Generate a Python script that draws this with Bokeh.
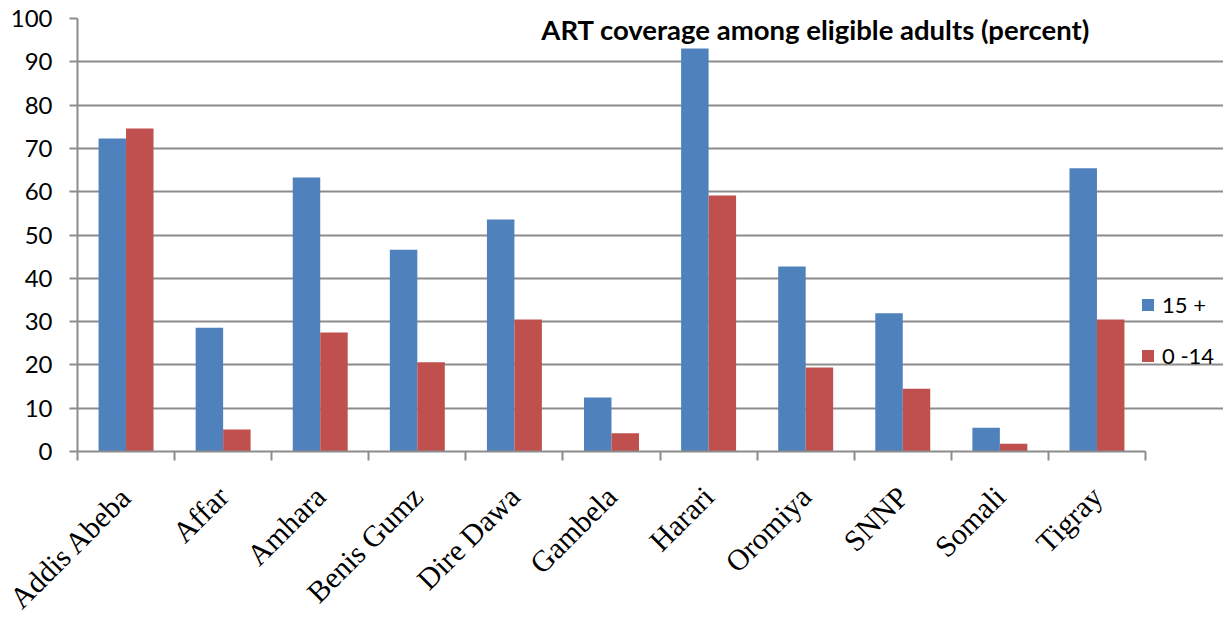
from bokeh.plotting import figure
from bokeh.models import (Range1d, FixedTicker, Legend, LegendItem, Label,
                          ColumnDataSource)
from bokeh.embed import file_html
from bokeh.resources import INLINE
import math

regions = ["Addis Abeba", "Affar", "Amhara", "Benis Gumz", "Dire Dawa", "Gambela",
           "Harari", "Oromiya", "SNNP", "Somali", "Tigray"]
adults_15plus = [72.3, 28.6, 63.3, 46.6, 53.6, 12.5, 93.1, 42.7, 31.9, 5.5, 65.4]
children_0_14 = [74.6, 5.1, 27.5, 20.6, 30.5, 4.2, 59.1, 19.4, 14.5, 1.8, 30.5]
series_names = ["15 +", "0 -14"]
title_text = "ART coverage among eligible adults (percent)"
y_ticks = list(range(0, 101, 10))

BLUE = "#4F81BD"
RED = "#C0504D"
GRID = "#8C8C8C"

n = len(regions)
centers = [i + 0.5 for i in range(n)]
bw = 0.283

src = ColumnDataSource(dict(
    xb=[c - bw / 2 for c in centers],
    xr=[c + bw / 2 for c in centers],
    a=adults_15plus,
    k=children_0_14,
))

PLOT_W = 1068  # pixel width of the category area
FRAME_W = 1146
x_end = n * FRAME_W / PLOT_W

p = figure(frame_width=FRAME_W, frame_height=433, output_backend="svg",
           toolbar_location=None, x_range=Range1d(0, x_end),
           y_range=Range1d(0, 100), min_border_left=77, min_border_top=18,
           min_border_right=0, min_border_bottom=150)
p.outline_line_color = None
p.background_fill_color = "white"

rb = p.vbar(x="xb", top="a", bottom=0, width=bw, source=src,
            fill_color=BLUE, line_color=None)
rr = p.vbar(x="xr", top="k", bottom=0, width=bw, source=src,
            fill_color=RED, line_color=None)

# x axis
p.xaxis.bounds = (0, n)
p.xaxis.ticker = FixedTicker(ticks=centers, minor_ticks=list(range(n + 1)))
p.xaxis.major_label_overrides = {c: r for c, r in zip(centers, regions)}
p.xaxis.major_label_orientation = math.pi / 4
p.xaxis.major_label_text_font = "Liberation Serif"
p.xaxis.major_label_text_font_size = "30px"
p.xaxis.major_label_text_color = "black"
p.xaxis.major_label_standoff = 31
p.xaxis.major_tick_line_color = None
p.xaxis.minor_tick_line_color = GRID
p.xaxis.minor_tick_line_width = 2
p.xaxis.minor_tick_out = 9
p.xaxis.minor_tick_in = 0
p.xaxis.axis_line_color = GRID
p.xaxis.axis_line_width = 2

# y axis
p.yaxis.ticker = FixedTicker(ticks=y_ticks)
p.yaxis.major_label_text_font = "Lato"
p.yaxis.major_label_text_font_size = "24px"
p.yaxis.major_label_text_color = "black"
p.yaxis.major_tick_line_color = GRID
p.yaxis.major_tick_line_width = 2
p.yaxis.major_tick_out = 8
p.yaxis.major_tick_in = 0
p.yaxis.minor_tick_line_color = None
p.yaxis.axis_line_color = GRID
p.yaxis.axis_line_width = 2
p.yaxis.major_label_standoff = 17

p.xgrid.grid_line_color = None
p.ygrid.grid_line_color = GRID
p.ygrid.grid_line_width = 2
p.ygrid.ticker = FixedTicker(ticks=y_ticks)
p.ygrid.bounds = (0, n)

title = Label(x=10.43, y=97.4, text=title_text, text_align="right",
              text_baseline="middle", text_font="Lato", text_font_style="bold",
              text_font_size="27.5px", text_color="black")
p.add_layout(title)

legend = Legend(items=[LegendItem(label=series_names[0], renderers=[rb]),
                       LegendItem(label=series_names[1], renderers=[rr])],
                location=(1063, 82), orientation="vertical")
legend.border_line_color = None
legend.background_fill_alpha = 0
legend.padding = 0
legend.margin = 0
legend.glyph_width = 15
legend.glyph_height = 15
legend.label_height = 24
legend.spacing = 24
legend.label_standoff = 7
legend.label_text_font = "Lato"
legend.label_text_font_size = "22px"
legend.label_text_color = "black"
p.add_layout(legend, "center")

open("out.html", "w").write(file_html(p, INLINE))
